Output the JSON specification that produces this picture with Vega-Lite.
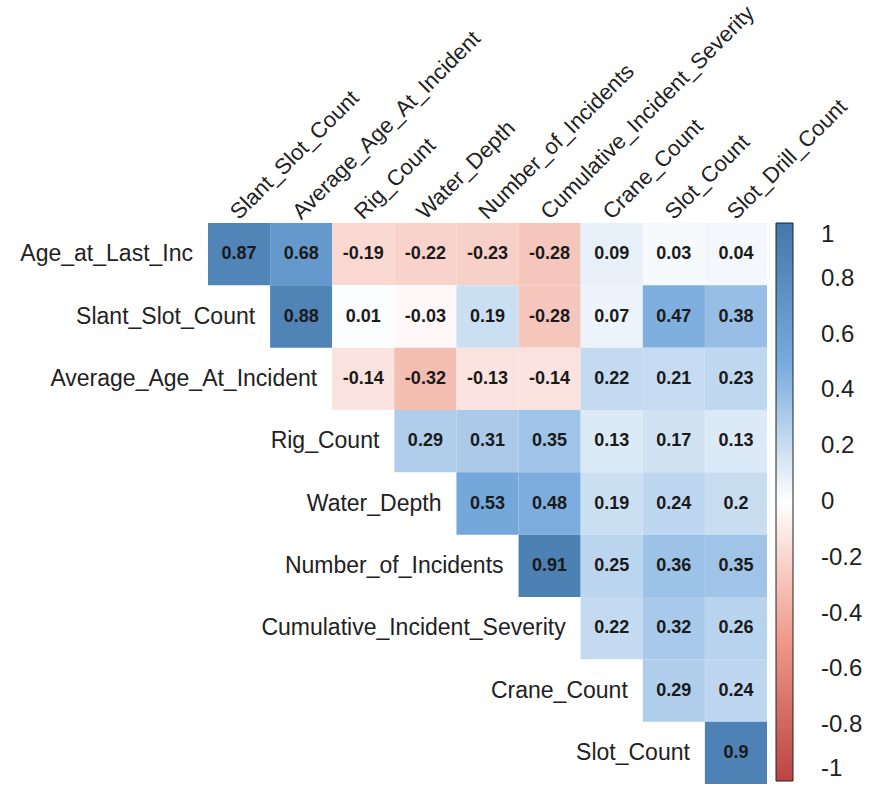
{
  "$schema": "https://vega.github.io/schema/vega-lite/v6.json",
  "autosize": {"type": "none"},
  "padding": {"left": 208, "top": 223, "right": 106, "bottom": 10},
  "width": 559,
  "height": 561,
  "background": "white",
  "datasets": {
    "cells": [
      {"row": "Age_at_Last_Inc", "col": "Slant_Slot_Count", "value": 0.87},
      {"row": "Age_at_Last_Inc", "col": "Average_Age_At_Incident", "value": 0.68},
      {"row": "Age_at_Last_Inc", "col": "Rig_Count", "value": -0.19},
      {"row": "Age_at_Last_Inc", "col": "Water_Depth", "value": -0.22},
      {"row": "Age_at_Last_Inc", "col": "Number_of_Incidents", "value": -0.23},
      {"row": "Age_at_Last_Inc", "col": "Cumulative_Incident_Severity", "value": -0.28},
      {"row": "Age_at_Last_Inc", "col": "Crane_Count", "value": 0.09},
      {"row": "Age_at_Last_Inc", "col": "Slot_Count", "value": 0.03},
      {"row": "Age_at_Last_Inc", "col": "Slot_Drill_Count", "value": 0.04},
      {"row": "Slant_Slot_Count", "col": "Average_Age_At_Incident", "value": 0.88},
      {"row": "Slant_Slot_Count", "col": "Rig_Count", "value": 0.01},
      {"row": "Slant_Slot_Count", "col": "Water_Depth", "value": -0.03},
      {"row": "Slant_Slot_Count", "col": "Number_of_Incidents", "value": 0.19},
      {"row": "Slant_Slot_Count", "col": "Cumulative_Incident_Severity", "value": -0.28},
      {"row": "Slant_Slot_Count", "col": "Crane_Count", "value": 0.07},
      {"row": "Slant_Slot_Count", "col": "Slot_Count", "value": 0.47},
      {"row": "Slant_Slot_Count", "col": "Slot_Drill_Count", "value": 0.38},
      {"row": "Average_Age_At_Incident", "col": "Rig_Count", "value": -0.14},
      {"row": "Average_Age_At_Incident", "col": "Water_Depth", "value": -0.32},
      {"row": "Average_Age_At_Incident", "col": "Number_of_Incidents", "value": -0.13},
      {"row": "Average_Age_At_Incident", "col": "Cumulative_Incident_Severity", "value": -0.14},
      {"row": "Average_Age_At_Incident", "col": "Crane_Count", "value": 0.22},
      {"row": "Average_Age_At_Incident", "col": "Slot_Count", "value": 0.21},
      {"row": "Average_Age_At_Incident", "col": "Slot_Drill_Count", "value": 0.23},
      {"row": "Rig_Count", "col": "Water_Depth", "value": 0.29},
      {"row": "Rig_Count", "col": "Number_of_Incidents", "value": 0.31},
      {"row": "Rig_Count", "col": "Cumulative_Incident_Severity", "value": 0.35},
      {"row": "Rig_Count", "col": "Crane_Count", "value": 0.13},
      {"row": "Rig_Count", "col": "Slot_Count", "value": 0.17},
      {"row": "Rig_Count", "col": "Slot_Drill_Count", "value": 0.13},
      {"row": "Water_Depth", "col": "Number_of_Incidents", "value": 0.53},
      {"row": "Water_Depth", "col": "Cumulative_Incident_Severity", "value": 0.48},
      {"row": "Water_Depth", "col": "Crane_Count", "value": 0.19},
      {"row": "Water_Depth", "col": "Slot_Count", "value": 0.24},
      {"row": "Water_Depth", "col": "Slot_Drill_Count", "value": 0.2},
      {"row": "Number_of_Incidents", "col": "Cumulative_Incident_Severity", "value": 0.91},
      {"row": "Number_of_Incidents", "col": "Crane_Count", "value": 0.25},
      {"row": "Number_of_Incidents", "col": "Slot_Count", "value": 0.36},
      {"row": "Number_of_Incidents", "col": "Slot_Drill_Count", "value": 0.35},
      {"row": "Cumulative_Incident_Severity", "col": "Crane_Count", "value": 0.22},
      {"row": "Cumulative_Incident_Severity", "col": "Slot_Count", "value": 0.32},
      {"row": "Cumulative_Incident_Severity", "col": "Slot_Drill_Count", "value": 0.26},
      {"row": "Crane_Count", "col": "Slot_Count", "value": 0.29},
      {"row": "Crane_Count", "col": "Slot_Drill_Count", "value": 0.24},
      {"row": "Slot_Count", "col": "Slot_Drill_Count", "value": 0.9}
    ],
    "rowlabels": [
      {"row": "Age_at_Last_Inc", "col": "Slant_Slot_Count"},
      {"row": "Slant_Slot_Count", "col": "Average_Age_At_Incident"},
      {"row": "Average_Age_At_Incident", "col": "Rig_Count"},
      {"row": "Rig_Count", "col": "Water_Depth"},
      {"row": "Water_Depth", "col": "Number_of_Incidents"},
      {"row": "Number_of_Incidents", "col": "Cumulative_Incident_Severity"},
      {"row": "Cumulative_Incident_Severity", "col": "Crane_Count"},
      {"row": "Crane_Count", "col": "Slot_Count"},
      {"row": "Slot_Count", "col": "Slot_Drill_Count"}
    ]
  },
  "encoding": {
    "x": {
      "field": "col", "type": "nominal",
      "scale": {"domain": ["Slant_Slot_Count", "Average_Age_At_Incident", "Rig_Count", "Water_Depth", "Number_of_Incidents", "Cumulative_Incident_Severity", "Crane_Count", "Slot_Count", "Slot_Drill_Count"], "paddingInner": 0, "paddingOuter": 0},
      "axis": {"orient": "top", "title": null, "domain": false, "ticks": false, "labelAngle": -45, "labelAlign": "left", "labelBaseline": "alphabetic", "labelPadding": 3, "labelFont": "Liberation Sans", "labelFontSize": 22, "labelColor": "#222222", "labelLimit": 500, "labelOverlap": false}
    },
    "y": {
      "field": "row", "type": "nominal",
      "scale": {"domain": ["Age_at_Last_Inc", "Slant_Slot_Count", "Average_Age_At_Incident", "Rig_Count", "Water_Depth", "Number_of_Incidents", "Cumulative_Incident_Severity", "Crane_Count", "Slot_Count"], "paddingInner": 0, "paddingOuter": 0},
      "axis": null
    }
  },
  "layer": [
    {
      "data": {"name": "cells"},
      "mark": {"type": "rect"},
      "encoding": {
        "color": {
          "field": "value", "type": "quantitative",
          "scale": {"domain": [-1, -0.5, 0, 0.5, 1], "range": ["#BB4444", "#EE9988", "#FFFFFF", "#77AADD", "#4477AA"], "interpolate": "rgb"},
          "legend": {
            "title": null, "offset": 9, "gradientLength": 558, "gradientThickness": 17,
            "gradientStrokeColor": "#222222", "gradientStrokeWidth": 1,
            "values": [1, 0.8, 0.6, 0.4, 0.2, 0, -0.2, -0.4, -0.6, -0.8, -1],
            "labelExpr": "toString(datum.value)",
            "labelFont": "Liberation Sans", "labelFontSize": 24, "labelColor": "#222222",
            "labelOffset": 28, "labelOverlap": false
          }
        }
      }
    },
    {
      "data": {"name": "cells"},
      "mark": {"type": "text", "font": "Liberation Sans", "fontWeight": "bold", "fontSize": 18, "color": "#1a1a1a"},
      "encoding": {
        "text": {"field": "value", "type": "nominal"}
      }
    },
    {
      "data": {"name": "rowlabels"},
      "mark": {"type": "text", "align": "right", "dx": -15, "font": "Liberation Sans", "fontSize": 23, "color": "#222222"},
      "encoding": {
        "x": {"field": "col", "type": "nominal", "bandPosition": 0},
        "text": {"field": "row", "type": "nominal"}
      }
    }
  ],
  "config": {"view": {"stroke": null}}
}
